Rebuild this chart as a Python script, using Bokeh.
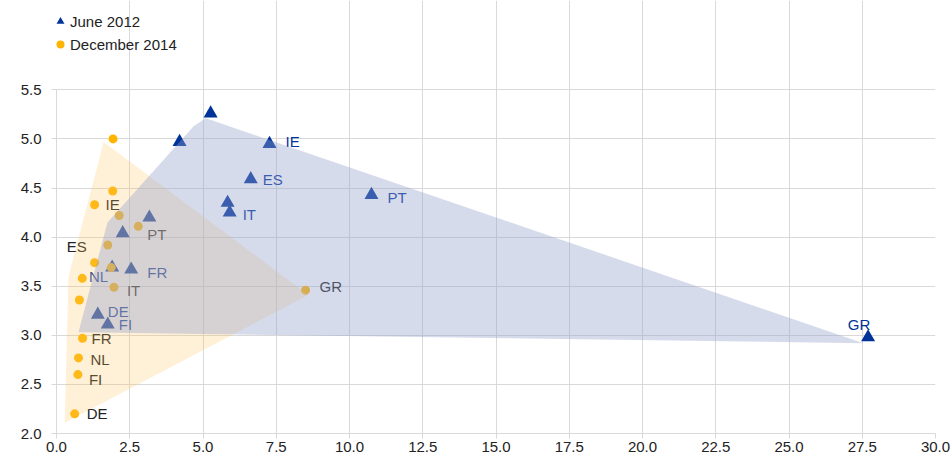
from bokeh.plotting import figure
from bokeh.models import ColumnDataSource, Range1d, FixedTicker, NumeralTickFormatter, Legend, LegendItem
from bokeh.embed import file_html
from bokeh.resources import INLINE
from bokeh.core.properties import value

# ---------------- data ----------------
series_names = ["June 2012", "December 2014"]

june_x = [5.26, 4.20, 7.27, 6.63, 5.84, 5.91, 10.75, 27.70, 3.17, 2.26, 1.90, 2.55, 1.41, 1.75]
june_y = [5.26, 4.97, 4.95, 4.59, 4.35, 4.25, 4.43, 2.98, 4.20, 4.04, 3.69, 3.67, 3.21, 3.11]
june_labels = ["", "", "IE", "ES", "", "IT", "PT", "GR", "", "", "NL", "FR", "DE", "FI"]

dec_x = [1.93, 1.92, 1.30, 2.14, 2.79, 1.75, 1.30, 1.87, 0.88, 1.96, 0.78, 0.89, 0.75, 0.73, 0.62, 8.50]
dec_y = [5.00, 4.47, 4.33, 4.22, 4.11, 3.92, 3.74, 3.69, 3.58, 3.49, 3.36, 2.97, 2.77, 2.60, 2.20, 3.46]
dec_labels = ["", "", "IE", "", "PT", "ES", "", "", "", "IT", "", "FR", "NL", "FI", "DE", "GR"]

# shaded areas (vertices)
june_area_x = [0.75, 1.74, 4.68, 5.09, 5.30, 27.54]
june_area_y = [3.03, 4.15, 5.13, 5.21, 5.19, 2.92]
dec_area_x = [1.61, 8.60, 0.28, 0.41]
dec_area_y = [4.97, 3.41, 2.11, 3.60]

x_ticks = [0, 2.5, 5, 7.5, 10, 12.5, 15, 17.5, 20, 22.5, 25, 27.5, 30]
y_ticks = [2.0, 2.5, 3.0, 3.5, 4.0, 4.5, 5.0, 5.5]
x_min, x_max = 0, 30
y_min, y_max = 2.0, 5.5
y_view_top = 6.41   # extra room above the axis for the legend (no grid there)

# ---------------- label styling (pixel offsets) ----------------
june_dx = [0, 0, 16, 12, 0, 13, 16, -9, 0, 0, -4, 16, 10, 11]
june_dy = [0, 0, -2, 0, 0, 2, 3, -13, 0, 0, 9, 3, -3, 0]
june_align = ["left", "left", "left", "left", "left", "left", "left", "center",
              "left", "left", "right", "left", "left", "left"]
dec_dx = [0, 0, 11, 0, 9, -21, 0, 0, 0, 13, 0, 9, 12, 11, 12, 14]
dec_dy = [0, 0, 0, 0, 8, 2, 0, 0, 0, 3, 0, 0, 2, 5, 0, -4]
dec_align = ["left"] * 5 + ["right"] + ["left"] * 10

FONT = "Liberation Sans"
NAVY = "#003399"
ORANGE = "#ffb400"
GRID = "#d9d9d9"

p = figure(width=952, height=461, output_backend="svg", toolbar_location=None,
           x_range=Range1d(x_min, x_max), y_range=Range1d(y_min, y_view_top),
           min_border_left=56, min_border_right=17, min_border_top=0, min_border_bottom=28)
p.outline_line_color = None
p.background_fill_color = "white"

for ax in (p.xaxis[0], p.yaxis[0]):
    ax.axis_line_color = GRID
    ax.major_tick_line_color = GRID
    ax.major_tick_out = 5
    ax.major_tick_in = 0
    ax.minor_tick_line_color = None
    ax.major_label_text_font = FONT
    ax.major_label_text_font_size = "15px"
    ax.major_label_text_color = "#222222"
    ax.formatter = NumeralTickFormatter(format="0.0")
p.xaxis[0].ticker = FixedTicker(ticks=x_ticks)
p.yaxis[0].ticker = FixedTicker(ticks=y_ticks)
p.yaxis[0].bounds = (y_min, y_max)
p.xaxis[0].major_label_standoff = 3
p.yaxis[0].major_label_standoff = 10

p.xgrid[0].ticker = FixedTicker(ticks=x_ticks)
p.ygrid[0].ticker = FixedTicker(ticks=y_ticks)
p.xgrid[0].bounds = (y_min, y_max)
p.xgrid.grid_line_color = GRID
p.ygrid.grid_line_color = GRID

# points
r_june = p.scatter(june_x, june_y, marker="triangle", size=14, color=NAVY, line_width=0)
r_dec = p.scatter(dec_x, dec_y, marker="circle", size=9, color=ORANGE, line_width=0)

# labels
def label_source(xs, ys, labels, dx, dy, al):
    keep = [i for i, t in enumerate(labels) if t]
    return ColumnDataSource(dict(
        x=[xs[i] for i in keep], y=[ys[i] for i in keep], t=[labels[i] for i in keep],
        dx=[dx[i] for i in keep], dy=[dy[i] for i in keep], al=[al[i] for i in keep]))

src_j = label_source(june_x, june_y, june_labels, june_dx, june_dy, june_align)
src_d = label_source(dec_x, dec_y, dec_labels, dec_dx, dec_dy, dec_align)
p.text(x="x", y="y", text="t", x_offset="dx", y_offset="dy", text_align="al", source=src_j,
       text_baseline="middle", text_font=value(FONT), text_font_size="15px", text_color=NAVY)
p.text(x="x", y="y", text="t", x_offset="dx", y_offset="dy", text_align="al", source=src_d,
       text_baseline="middle", text_font=value(FONT), text_font_size="15px", text_color="#222222")

# shaded areas on top
p.patch(dec_area_x, dec_area_y, fill_color="#ffc861", fill_alpha=0.25, line_alpha=0)
p.patch(june_area_x, june_area_y, fill_color="#95a2cf", fill_alpha=0.39, line_alpha=0)

legend = Legend(items=[LegendItem(label=series_names[0], renderers=[r_june]),
                       LegendItem(label=series_names[1], renderers=[r_dec])],
                location=(-6, 379), orientation="vertical",
                border_line_alpha=0, background_fill_alpha=0,
                padding=0, margin=0, spacing=3, label_height=20,
                glyph_width=20, glyph_height=20, label_standoff=-3,
                label_text_font=FONT, label_text_font_size="15px", label_text_color="#222222")
p.add_layout(legend, "center")

open("out.html", "w").write(file_html(p, INLINE))
